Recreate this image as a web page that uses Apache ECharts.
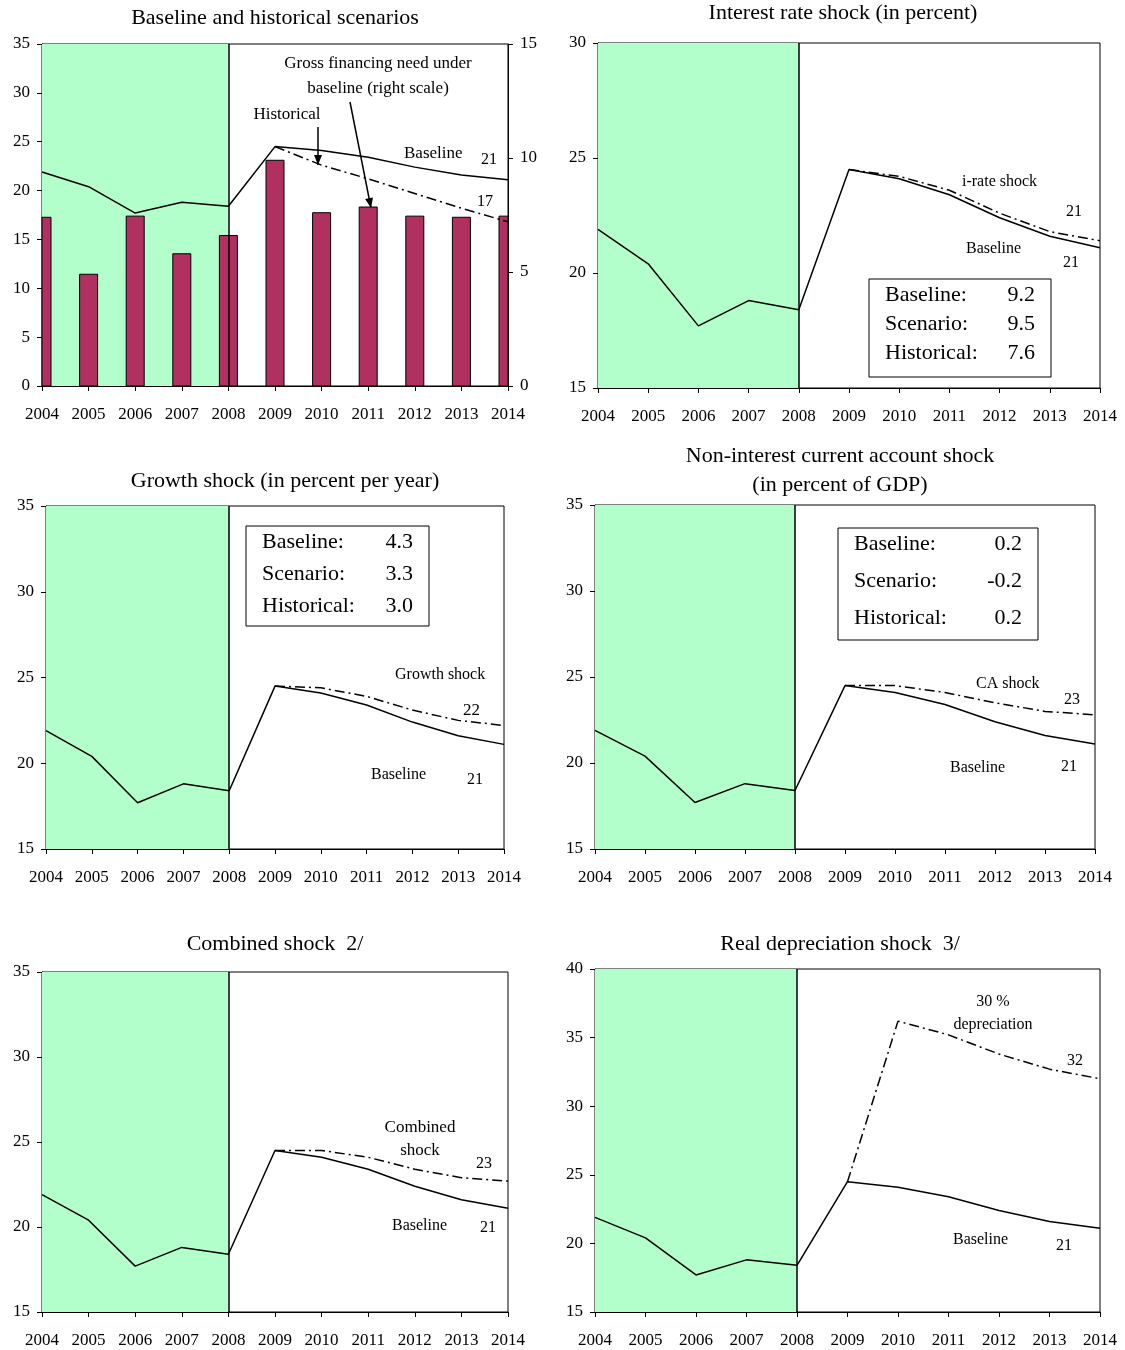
<!DOCTYPE html>
<html><head><meta charset="utf-8">
<script src="https://cdn.jsdelivr.net/npm/echarts@6/dist/echarts.min.js"></script>
<style>body{margin:0;background:#fff}#c{width:1125px;height:1350px}</style>
</head><body><div id="c"></div>
<script>
const years = ['2004','2005','2006','2007','2008','2009','2010','2011','2012','2013','2014'];
const baseline = [21.9,20.4,17.7,18.8,18.4,24.5,24.1,23.4,22.4,21.6,21.1];
const historical = [null,null,null,null,null,24.5,22.6,21.2,19.7,18.2,16.8];
const gfn = [7.4,4.9,7.45,5.8,6.6,9.9,7.6,7.85,7.45,7.4,7.45];
const irateShock = [null,null,null,null,null,24.5,24.2,23.6,22.6,21.8,21.4];
const growthShock = [null,null,null,null,null,24.5,24.4,23.9,23.1,22.5,22.2];
const caShock = [null,null,null,null,null,24.5,24.5,24.1,23.5,23.0,22.8];
const combinedShock = [null,null,null,null,null,24.5,24.5,24.1,23.4,22.9,22.7];
const deprShock = [null,null,null,null,null,24.5,36.2,35.2,33.8,32.7,32.0];

const F = 'Liberation Serif';
const DASHDOT = [10,4,2,4];
const panels = [
  {l:42,t:44,w:466,h:342,min:0,max:35,iv:5,shock:historical},
  {l:598,t:43,w:502,h:345,min:15,max:30,iv:5,shock:irateShock},
  {l:46,t:506,w:458,h:343,min:15,max:35,iv:5,shock:growthShock},
  {l:595,t:505,w:500,h:344,min:15,max:35,iv:5,shock:caShock},
  {l:42,t:972,w:466,h:340,min:15,max:35,iv:5,shock:combinedShock},
  {l:595,t:969,w:505,h:343,min:15,max:40,iv:5,shock:deprShock}
];
const grid=[],xAxis=[],yAxis=[],series=[];
const axisLbl={color:'#000',fontFamily:F,fontSize:17};
panels.forEach((p,i)=>{
  grid.push({left:p.l,top:p.t,width:p.w,height:p.h,show:true,borderColor:'#000',borderWidth:1});
  xAxis.push({type:'category',gridIndex:i,data:years,boundaryGap:false,
    axisLine:{lineStyle:{color:'#000'}},axisTick:{alignWithLabel:true,lineStyle:{color:'#000'}},
    axisLabel:Object.assign({margin:20,interval:0},axisLbl),splitLine:{show:false}});
  yAxis.push({type:'value',gridIndex:i,min:p.min,max:p.max,interval:p.iv,
    axisLine:{show:true,lineStyle:{color:'#000'}},axisTick:{show:true,lineStyle:{color:'#000'}},
    axisLabel:Object.assign({margin:12},axisLbl),splitLine:{show:false}});
});
yAxis.push({type:'value',gridIndex:0,position:'right',min:0,max:15,interval:5,
  axisLine:{show:true,lineStyle:{color:'#000'}},axisTick:{show:true,lineStyle:{color:'#000'}},
  axisLabel:Object.assign({margin:12},axisLbl),splitLine:{show:false}});
// bars clipped to the plot area, as the edge years are cut in half
series.push({type:'custom',xAxisIndex:0,yAxisIndex:6,z:3,data:gfn.map((v,i)=>[i,v]),
  renderItem(params,api){
    const top=api.coord([api.value(0),api.value(1)]);
    const bot=api.coord([api.value(0),0]);
    const cs=params.coordSys, bw=18;
    const shape=echarts.graphic.clipRectByRect(
      {x:top[0]-bw/2,y:top[1],width:bw,height:bot[1]-top[1]},
      {x:cs.x,y:cs.y,width:cs.width,height:cs.height});
    return shape&&{type:'rect',shape,style:{fill:'#B03060',stroke:'#000',lineWidth:1}};
  }});
panels.forEach((p,i)=>{
  series.push({type:'line',xAxisIndex:i,yAxisIndex:i,data:baseline,symbol:'none',z:4,
    lineStyle:{color:'#000',width:1.5},
    markArea:{silent:true,itemStyle:{color:'#B3FFCC'},data:[[{xAxis:'2004'},{xAxis:'2008'}]]}});
  series.push({type:'line',xAxisIndex:i,yAxisIndex:i,data:p.shock,symbol:'none',z:4,
    lineStyle:{color:'#000',width:1.5,type:DASHDOT}});
  series.push({type:'line',xAxisIndex:i,yAxisIndex:i,data:[],symbol:'none',
    markLine:{silent:true,symbol:'none',label:{show:false},lineStyle:{color:'#000',width:1.5,type:'solid'},data:[{xAxis:'2008'}]}});
});

const titles=[
  [275,7,'Baseline and historical scenarios'],[843,2,'Interest rate shock (in percent)'],
  [285,470,'Growth shock (in percent per year)'],[840,445,'Non-interest current account shock'],
  [840,474,'(in percent of GDP)'],[275,933,'Combined shock  2/'],[840,933,'Real depreciation shock  3/']
];
const graphic=[];
titles.forEach(t=>graphic.push({type:'text',x:t[0],y:t[1],style:{text:t[2],font:'22px '+F,fill:'#000',textAlign:'center'}}));
const ann=[
  [378,55,'Gross financing need under',17,'center'],[378,80,'baseline (right scale)',17,'center'],
  [287,106,'Historical',17,'center'],[404,145,'Baseline',17],[481,152,'21',16],[477,194,'17',16],
  [962,174,'i-rate shock',16],[1066,204,'21',16],[966,241,'Baseline',16],[1063,255,'21',16],
  [395,667,'Growth shock',16],[463,702,'22',17],[371,767,'Baseline',16],[467,772,'21',16],
  [976,676,'CA shock',16],[1064,692,'23',16],[950,760,'Baseline',16],[1061,759,'21',16],
  [420,1119,'Combined',17,'center'],[420,1142,'shock',17,'center'],[476,1156,'23',16],[392,1218,'Baseline',16],[480,1220,'21',16],
  [993,994,'30 %',16,'center'],[993,1017,'depreciation',16,'center'],[1067,1053,'32',16],[953,1232,'Baseline',16],[1056,1238,'21',16]
];
ann.forEach(a=>graphic.push({type:'text',x:a[0],y:a[1],style:{text:a[2],font:a[3]+'px '+F,fill:'#000',textAlign:a[4]||'left'}}));
const arrow=(x1,y1,x2,y2)=>{
  const ang=Math.atan2(y2-y1,x2-x1),L=10,W=4;
  graphic.push({type:'line',shape:{x1,y1,x2,y2},style:{stroke:'#000',lineWidth:1.5}});
  graphic.push({type:'polygon',shape:{points:[[x2,y2],
    [x2-L*Math.cos(ang)+W*Math.sin(ang),y2-L*Math.sin(ang)-W*Math.cos(ang)],
    [x2-L*Math.cos(ang)-W*Math.sin(ang),y2-L*Math.sin(ang)+W*Math.cos(ang)]]},style:{fill:'#000'}});
};
arrow(318,127,318,165);arrow(350,102,371,208);
const box=(x,y,w,h,rows,gap)=>{
  graphic.push({type:'rect',shape:{x,y,width:w,height:h},style:{fill:'#fff',stroke:'#000',lineWidth:1},z:10});
  rows.forEach((r,k)=>{
    graphic.push({type:'text',x:x+16,y:y+5+k*gap,z:11,style:{text:r[0],font:'22px '+F,fill:'#000'}});
    graphic.push({type:'text',x:x+w-16,y:y+5+k*gap,z:11,style:{text:r[1],font:'22px '+F,fill:'#000',textAlign:'right'}});
  });
};
box(869,279,182,98,[['Baseline:','9.2'],['Scenario:','9.5'],['Historical:','7.6']],29);
box(246,526,183,100,[['Baseline:','4.3'],['Scenario:','3.3'],['Historical:','3.0']],32);
box(838,528,200,112,[['Baseline:','0.2'],['Scenario:','-0.2'],['Historical:','0.2']],37);

echarts.init(document.getElementById('c')).setOption({animation:false,grid,xAxis,yAxis,series,graphic});
</script></body></html>
